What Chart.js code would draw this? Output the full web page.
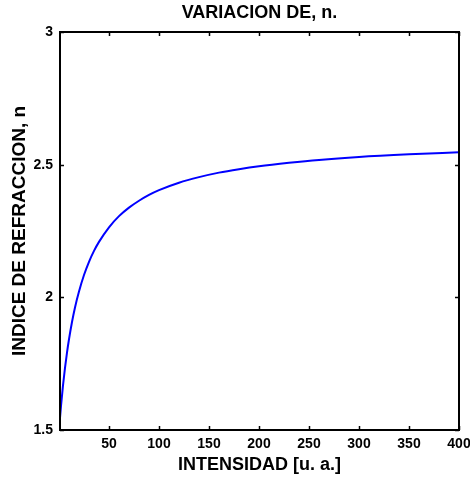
<!DOCTYPE html>
<html>
<head>
<meta charset="utf-8">
<script src="https://cdn.jsdelivr.net/npm/chart.js@4.4.1/dist/chart.umd.min.js"></script>
<style>
html,body{margin:0;padding:0;background:#fff;}
#contenedor{width:470px;height:481px;}
</style>
</head>
<body>
<div id="contenedor"><canvas id="graficoIndice"></canvas></div>
<script>

const intensidad = [0,2,4,6,8,10,13,16,20,25,30,35,40,50,60,70,80,90,100,120,140,160,180,200,230,260,300,350,400]
const indice = [1.500,1.591,1.668,1.734,1.792,1.842,1.907,1.962,2.022,2.084,2.134,2.175,2.209,2.264,2.306,2.338,2.364,2.386,2.404,2.432,2.453,2.470,2.483,2.494,2.507,2.518,2.529,2.539,2.547]

const ticksX = [50,100,150,200,250,300,350,400]
const ticksY = [1.5,2,2.5,3]

const fuente = "'Liberation Sans', Arial, sans-serif"

/* marco negro con marcas hacia dentro en los cuatro lados */
const marco = {
id:"marco",
afterDatasetsDraw(chart){
const {ctx, chartArea:a, scales} = chart
const largo = 4
ctx.save()
ctx.strokeStyle = "#000"
ctx.lineWidth = 1.5
ctx.beginPath()
scales.x.ticks.forEach(t => {
const px = Math.round(scales.x.getPixelForValue(t.value)) + 0.5
ctx.moveTo(px, a.bottom); ctx.lineTo(px, a.bottom - largo)
ctx.moveTo(px, a.top); ctx.lineTo(px, a.top + largo)
})
scales.y.ticks.forEach(t => {
const py = Math.round(scales.y.getPixelForValue(t.value)) + 0.5
ctx.moveTo(a.left, py); ctx.lineTo(a.left + largo, py)
ctx.moveTo(a.right, py); ctx.lineTo(a.right - largo, py)
})
ctx.stroke()
ctx.lineWidth = 2
ctx.strokeRect(a.left, a.top, a.right - a.left, a.bottom - a.top)
ctx.restore()
}
}

new Chart(document.getElementById("graficoIndice"),{
type:"line",
data:{
labels:intensidad,
datasets:[{
data:intensidad.map((x,i) => ({x:x, y:indice[i]})),
borderColor:"#0000ff",
borderWidth:2,
pointRadius:0,
cubicInterpolationMode:"monotone",
fill:false
}]
},
options:{
responsive:true,
maintainAspectRatio:false,
animation:false,
layout:{padding:{left:0,top:0,right:11,bottom:0}},
plugins:{
legend:{display:false},
tooltip:{enabled:false},
title:{
display:true,
text:"VARIACION DE, n.",
fullSize:false,
color:"#000",
font:{family:fuente,size:18,weight:"bold"},
padding:{top:2,bottom:8.4}
}
},
scales:{
x:{
type:"linear",
min:1,
max:400,
grid:{display:false,drawTicks:false,tickLength:0},
border:{display:false},
afterBuildTicks:s => { s.ticks = ticksX.map(v => ({value:v})) },
afterFit:s => { s.height = 51; s.paddingLeft = 0; s.paddingRight = 0 },
ticks:{color:"#000",padding:6,maxRotation:0,autoSkip:false,font:{family:fuente,size:14,weight:"bold"}},
title:{display:true,text:"INTENSIDAD [u. a.]",color:"#000",font:{family:fuente,size:18,weight:"bold"},padding:{top:0,bottom:5}}
},
y:{
type:"linear",
min:1.5,
max:3,
grid:{display:false,drawTicks:false,tickLength:0},
border:{display:false},
afterBuildTicks:s => { s.ticks = ticksY.map(v => ({value:v})) },
afterFit:s => { s.width = 60; s.paddingTop = 0; s.paddingBottom = 0 },
ticks:{color:"#000",padding:7,callback:v => String(v),font:{family:fuente,size:14,weight:"bold"}},
title:{display:true,text:"INDICE DE REFRACCION, n",color:"#000",font:{family:fuente,size:19,weight:"bold"},padding:{top:8.6,bottom:0}}
}
}
},
plugins:[marco]
})

</script>
</body>
</html>
